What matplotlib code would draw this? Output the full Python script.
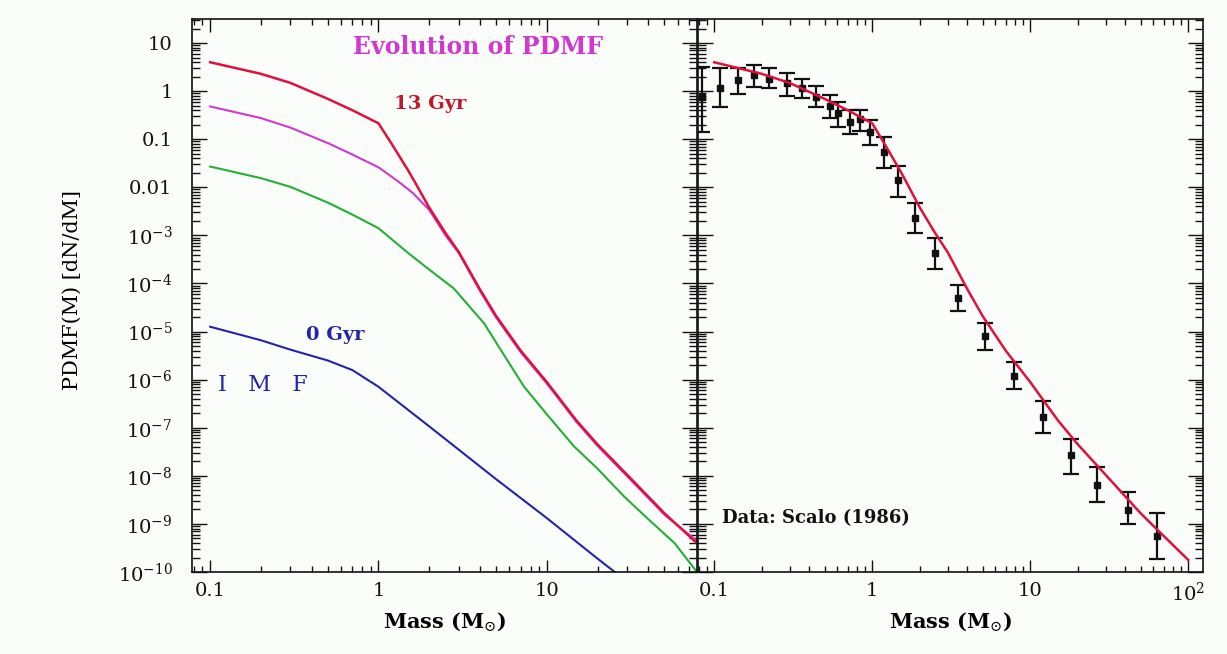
import numpy as np
import matplotlib
matplotlib.use('Agg')
import matplotlib.pyplot as plt
from matplotlib.ticker import FixedLocator, FixedFormatter, LogLocator, NullFormatter

plt.rcParams['font.family'] = ['DejaVu Serif']
plt.rcParams['mathtext.fontset'] = 'dejavuserif'

# PDMF curves (mass in Msun, PDMF in dN/dM)
mass_13gyr = [0.1, 0.2, 0.3, 0.5, 0.7, 1.0, 1.2, 1.5, 1.62, 2.0, 2.5, 3.0, 4.0, 5.0,
              7.0, 10, 15, 20, 30, 50, 70, 100]
pdmf_13gyr = [3.98, 2.29, 1.48, 0.69, 0.40, 0.214, 0.079, 0.0224, 0.0141, 3.8e-3,
              1.12e-3, 4.5e-4, 7.6e-5, 2.1e-5, 4.0e-6, 8.9e-7, 1.41e-7, 4.5e-8,
              1.05e-8, 1.66e-9, 5.6e-10, 1.78e-10]

mass_mid = [0.1, 0.2, 0.3, 0.5, 0.7, 1.0, 1.3, 1.6, 2.0, 2.5, 3.0, 4.0, 5.0, 7.0,
            10, 15, 20, 30, 50, 80]
pdmf_mid = [0.48, 0.275, 0.174, 0.083, 0.048, 0.026, 0.0135, 7.6e-3, 3.4e-3, 1.0e-3,
            4.3e-4, 7.1e-5, 1.95e-5, 3.7e-6, 8.3e-7, 1.32e-7, 4.2e-8, 9.8e-9,
            1.55e-9, 4.1e-10]

mass_green = [0.1, 0.2, 0.3, 0.5, 0.7, 1.0, 1.5, 2.0, 2.8, 3.5, 4.24, 5.0, 7.33,
              10, 14.5, 20, 28.8, 40, 57.3, 78]
pdmf_green = [0.027, 0.0155, 0.0102, 4.8e-3, 2.7e-3, 1.41e-3, 4.3e-4, 1.95e-4, 7.9e-5,
              3.2e-5, 1.48e-5, 5.9e-6, 7.1e-7, 1.9e-7, 4.1e-8, 1.41e-8, 3.7e-9,
              1.26e-9, 4.0e-10, 1.0e-10]

mass_imf = [0.1, 0.2, 0.3, 0.5, 0.7, 1.0, 2.0, 5.0, 10, 20, 30]
pdmf_imf = [1.26e-5, 6.6e-6, 4.2e-6, 2.5e-6, 1.58e-6, 7.1e-7, 1.07e-7, 8.5e-9,
            1.32e-9, 1.9e-10, 6.3e-11]

# Scalo (1986) data points with error bar limits
scalo_mass = [0.084, 0.109, 0.141, 0.179, 0.223, 0.288, 0.361, 0.442, 0.537, 0.612,
              0.726, 0.84, 0.975, 1.18, 1.45, 1.87, 2.5, 3.49, 5.19, 7.84, 11.97,
              18.1, 26.4, 41.5, 63.2]
scalo_val = [0.75, 1.18, 1.70, 2.16, 1.79, 1.45, 1.14, 0.77, 0.49, 0.345, 0.231, 0.263,
             0.139, 0.055, 0.0141, 2.26e-3, 4.3e-4, 5.0e-5, 8.1e-6, 1.2e-6, 1.7e-7,
             2.7e-8, 6.5e-9, 1.95e-9, 5.6e-10]
scalo_hi = [3.2, 2.98, 3.0, 3.5, 2.98, 2.42, 1.76, 1.29, 0.83, 0.60, 0.405, 0.405,
            0.25, 0.113, 0.028, 4.7e-3, 8.7e-4, 9.5e-5, 1.5e-5, 2.3e-6, 3.6e-7,
            5.8e-8, 1.55e-8, 4.7e-9, 1.7e-9]
scalo_lo = [0.14, 0.46, 0.86, 1.23, 1.14, 0.79, 0.71, 0.46, 0.28, 0.177, 0.126, 0.148,
            0.076, 0.0248, 6.2e-3, 1.1e-3, 2.0e-4, 2.7e-5, 4.2e-6, 6.3e-7, 7.9e-8,
            1.1e-8, 2.8e-9, 9.8e-10, 1.9e-10]

y_ticks = [10.0 ** k for k in range(-10, 2)]
y_labels = ['$10^{-%d}$' % k for k in range(10, 2, -1)] + ['0.01', '0.1', '1', '10']
x_ticks_left = [0.1, 1, 10]
x_labels_left = ['0.1', '1', '10']
x_ticks_right = [0.1, 1, 10, 100]
x_labels_right = ['0.1', '1', '10', '$10^2$']

RED = '#e0103c'
MAGENTA = '#d038d0'
GREEN = '#22b034'
BLUE = '#2424a8'
BG = '#fbfdfb'

fig = plt.figure(figsize=(12.27, 6.54), dpi=100)
fig.patch.set_facecolor(BG)

W, H = 1227, 654
ax1 = fig.add_axes([192 / W, 82 / H, 505 / W, 553 / H])
ax2 = fig.add_axes([698 / W, 82 / H, 505 / W, 553 / H])


def style_axis(ax, xticks, xlabels, show_ylabels):
    ax.set_facecolor(BG)
    ax.set_xscale('log')
    ax.set_yscale('log')
    ax.set_ylim(1e-10, 31.6)
    ax.xaxis.set_major_locator(FixedLocator(xticks))
    ax.xaxis.set_major_formatter(FixedFormatter(xlabels))
    ax.xaxis.set_minor_locator(LogLocator(base=10, subs=np.arange(2, 10), numticks=100))
    ax.xaxis.set_minor_formatter(NullFormatter())
    ax.yaxis.set_major_locator(FixedLocator(y_ticks))
    ax.yaxis.set_minor_locator(LogLocator(base=10, subs=np.arange(2, 10), numticks=100))
    ax.yaxis.set_minor_formatter(NullFormatter())
    if show_ylabels:
        ax.yaxis.set_major_formatter(FixedFormatter(y_labels))
    else:
        ax.yaxis.set_major_formatter(NullFormatter())
    ax.tick_params(axis='both', which='both', direction='in', top=True, right=True,
                   colors='#111111', width=1.0)
    ax.tick_params(axis='x', which='major', length=9, labelsize=14, pad=7)
    ax.tick_params(axis='x', which='minor', length=4.5)
    ax.tick_params(axis='y', which='major', length=11, labelsize=14, pad=14)
    ax.tick_params(axis='y', which='minor', length=5.5)
    for sp in ax.spines.values():
        sp.set_linewidth(1.2)
        sp.set_color('#111111')


# left panel: evolution of the PDMF
style_axis(ax1, x_ticks_left, x_labels_left, True)
ax1.set_xlim(0.078, 78)
ax1.plot(mass_imf, pdmf_imf, color=BLUE, lw=1.5)
ax1.plot(mass_green, pdmf_green, color=GREEN, lw=1.5)
ax1.plot(mass_mid, pdmf_mid, color=MAGENTA, lw=1.5)
ax1.plot(mass_13gyr, pdmf_13gyr, color=RED, lw=1.8)

ax1.text(3.9, 8.3, 'Evolution of PDMF', color=MAGENTA, fontsize=17,
         fontweight='bold', ha='center', va='center')
ax1.text(2.04, 0.54, '13 Gyr', color='#c01828', fontsize=14,
         fontweight='bold', ha='center', va='center')
ax1.text(0.55, 8.5e-6, '0 Gyr', color=BLUE, fontsize=14,
         fontweight='bold', ha='center', va='center')
ax1.text(0.112, 7.8e-7, 'I   M   F', color=BLUE, fontsize=16,
         ha='left', va='center')

# right panel: comparison with Scalo (1986)
style_axis(ax2, x_ticks_right, x_labels_right, False)
ax2.set_xlim(0.079, 124)
yerr = [np.array(scalo_val) - np.array(scalo_lo), np.array(scalo_hi) - np.array(scalo_val)]
ax2.errorbar(scalo_mass, scalo_val, yerr=yerr, fmt='s', ms=4, color='#111111',
             ecolor='#111111', elinewidth=1.6, capsize=5.5, capthick=1.6, zorder=2)
ax2.plot(mass_13gyr, pdmf_13gyr, color=RED, lw=1.8, zorder=3)
ax2.text(0.112, 1.33e-9, 'Data: Scalo (1986)', color='#111111', fontsize=13,
         fontweight='bold', ha='left', va='center')

fig.text(72 / W, 1 - 290 / H, 'PDMF(M) [dN/dM]', rotation=90, fontsize=15,
         ha='center', va='center')
fig.text(444.5 / W, 1 - 622 / H, r'Mass (M$_{\odot}$)', fontsize=15,
         fontweight='bold', ha='center', va='center')
fig.text(950.5 / W, 1 - 622 / H, r'Mass (M$_{\odot}$)', fontsize=15,
         fontweight='bold', ha='center', va='center')

fig.savefig('out.png', dpi=100, facecolor=BG)
